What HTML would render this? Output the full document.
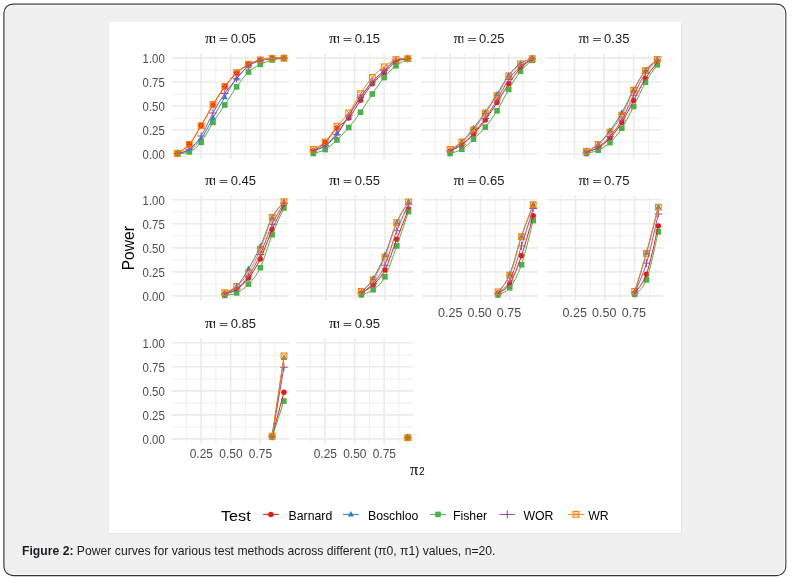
<!DOCTYPE html>
<html><head><meta charset="utf-8"><title>Figure 2</title>
<style>
html,body{margin:0;padding:0;background:#fff;}
body{width:795px;height:578px;position:relative;overflow:hidden;font-family:"Liberation Sans",Arial,sans-serif;}

.plot{position:absolute;left:109px;top:22px;width:572px;height:511px;background:#fff;box-shadow:1px 1px 0 #e7e7e7,-1px 0 0 #eaeaea;}
svg{position:absolute;left:0;top:0;}
.ax{fill:#4D4D4D;font-family:"Liberation Sans",Arial,sans-serif;}
.st{fill:#1A1A1A;font-family:"Liberation Sans",Arial,sans-serif;}
.pi{font-family:"Liberation Serif","DejaVu Serif",serif;fill:#1A1A1A;stroke:#1A1A1A;stroke-width:0.8px;}
.eq{font-family:"Liberation Sans",Arial,sans-serif;fill:#1A1A1A;stroke:#1A1A1A;stroke-width:1.8px;}
.sub{fill:#1A1A1A;font-family:"NanumGothic","Liberation Sans",sans-serif;font-weight:bold;}
.ti{fill:#000;font-family:"Liberation Sans",Arial,sans-serif;}
.ti2{fill:#000;}
.pi2{font-family:"Liberation Serif","DejaVu Serif",serif;fill:#000;}
.sub2{font-family:"Liberation Sans",Arial,sans-serif;fill:#000;}
.lt{fill:#000;font-family:"Liberation Sans",Arial,sans-serif;}
.lg{fill:#000;font-family:"Liberation Sans",Arial,sans-serif;}
.cap{position:absolute;left:22px;top:543px;font-size:12.2px;line-height:16px;color:#1c1c24;white-space:nowrap;font-family:"Liberation Sans",Arial,sans-serif;}
.cap b{font-weight:bold;}
</style></head>
<body>
<svg class="fr" width="795" height="578" viewBox="0 0 795 578">
<rect x="3.9" y="4.1" width="781.9" height="571.5" rx="9" ry="9" fill="#f0f0f0" stroke="#2e2e2e" stroke-width="1.1"/>
<path d="M13.5 5.25H776.2A8.4 8.4 0 0 1 784.65 13.6V566.2A8.4 8.4 0 0 1 776.2 574.55H13.5" fill="none" stroke="#ffffff" stroke-opacity="0.75" stroke-width="1"/>
</svg>
<div class="plot"></div>
<svg width="795" height="578" viewBox="0 0 795 578">
<g><path d="M172 141.97H289.1" stroke="#EBEBEB" stroke-width="0.8"/><path d="M186.35 53.79V158.74" stroke="#EBEBEB" stroke-width="0.8"/><path d="M172 118.01H289.1" stroke="#EBEBEB" stroke-width="0.8"/><path d="M215.92 53.79V158.74" stroke="#EBEBEB" stroke-width="0.8"/><path d="M172 94.04H289.1" stroke="#EBEBEB" stroke-width="0.8"/><path d="M245.5 53.79V158.74" stroke="#EBEBEB" stroke-width="0.8"/><path d="M172 70.08H289.1" stroke="#EBEBEB" stroke-width="0.8"/><path d="M275.07 53.79V158.74" stroke="#EBEBEB" stroke-width="0.8"/><path d="M172 153.95H289.1" stroke="#EBEBEB" stroke-width="1.6"/><path d="M172 129.99H289.1" stroke="#EBEBEB" stroke-width="1.6"/><path d="M172 106.02H289.1" stroke="#EBEBEB" stroke-width="1.6"/><path d="M172 82.06H289.1" stroke="#EBEBEB" stroke-width="1.6"/><path d="M172 58.1H289.1" stroke="#EBEBEB" stroke-width="1.6"/><path d="M201.13 53.79V158.74" stroke="#EBEBEB" stroke-width="1.6"/><path d="M230.71 53.79V158.74" stroke="#EBEBEB" stroke-width="1.6"/><path d="M260.28 53.79V158.74" stroke="#EBEBEB" stroke-width="1.6"/></g>
<circle cx="177.47" cy="153.47" r="2.75" fill="#E41A1C"/><circle cx="189.31" cy="144.36" r="2.75" fill="#E41A1C"/><circle cx="201.13" cy="125.58" r="2.75" fill="#E41A1C"/><circle cx="212.97" cy="105.07" r="2.75" fill="#E41A1C"/><circle cx="224.8" cy="86.85" r="2.75" fill="#E41A1C"/><circle cx="236.62" cy="73.05" r="2.75" fill="#E41A1C"/><circle cx="248.45" cy="64.62" r="2.75" fill="#E41A1C"/><circle cx="260.28" cy="60.02" r="2.75" fill="#E41A1C"/><circle cx="272.12" cy="58.39" r="2.75" fill="#E41A1C"/><circle cx="283.94" cy="58.1" r="2.75" fill="#E41A1C"/>
<path d="M177.47 150.07L180.53 155.67L174.42 155.67Z" fill="#377EB8"/><path d="M189.31 146.72L192.36 152.32L186.25 152.32Z" fill="#377EB8"/><path d="M201.13 135.31L204.19 140.91L198.08 140.91Z" fill="#377EB8"/><path d="M212.97 114.7L216.02 120.3L209.91 120.3Z" fill="#377EB8"/><path d="M224.8 93.71L227.85 99.31L221.75 99.31Z" fill="#377EB8"/><path d="M236.62 74.83L239.68 80.43L233.57 80.43Z" fill="#377EB8"/><path d="M248.45 62.56L251.5 68.16L245.4 68.16Z" fill="#377EB8"/><path d="M260.28 57.1L263.33 62.7L257.23 62.7Z" fill="#377EB8"/><path d="M272.12 55.18L275.17 60.78L269.06 60.78Z" fill="#377EB8"/><path d="M283.94 54.7L287 60.3L280.89 60.3Z" fill="#377EB8"/>
<rect x="174.67" y="150.96" width="5.6" height="5.6" fill="#4DAF4A"/><rect x="186.5" y="149.14" width="5.6" height="5.6" fill="#4DAF4A"/><rect x="198.33" y="139.55" width="5.6" height="5.6" fill="#4DAF4A"/><rect x="210.16" y="119.62" width="5.6" height="5.6" fill="#4DAF4A"/><rect x="222" y="102.17" width="5.6" height="5.6" fill="#4DAF4A"/><rect x="233.82" y="84.05" width="5.6" height="5.6" fill="#4DAF4A"/><rect x="245.65" y="69.29" width="5.6" height="5.6" fill="#4DAF4A"/><rect x="257.48" y="61.63" width="5.6" height="5.6" fill="#4DAF4A"/><rect x="269.31" y="57.22" width="5.6" height="5.6" fill="#4DAF4A"/><rect x="281.14" y="55.49" width="5.6" height="5.6" fill="#4DAF4A"/>
<path d="M173.57 153.47H181.38M177.47 149.57V157.37" stroke="#984EA3" stroke-width="1.05" fill="none"/><path d="M185.41 149.16H193.21M189.31 145.26V153.06" stroke="#984EA3" stroke-width="1.05" fill="none"/><path d="M197.23 136.03H205.03M201.13 132.13V139.93" stroke="#984EA3" stroke-width="1.05" fill="none"/><path d="M209.06 113.02H216.87M212.97 109.12V116.92" stroke="#984EA3" stroke-width="1.05" fill="none"/><path d="M220.9 93.37H228.7M224.8 89.47V97.27" stroke="#984EA3" stroke-width="1.05" fill="none"/><path d="M232.72 78.71H240.53M236.62 74.81V82.61" stroke="#984EA3" stroke-width="1.05" fill="none"/><path d="M244.55 65.96H252.35M248.45 62.06V69.86" stroke="#984EA3" stroke-width="1.05" fill="none"/><path d="M256.38 60.4H264.18M260.28 56.5V64.3" stroke="#984EA3" stroke-width="1.05" fill="none"/><path d="M268.22 58.58H276.01M272.12 54.68V62.48" stroke="#984EA3" stroke-width="1.05" fill="none"/><path d="M280.05 58.1H287.84M283.94 54.2V62" stroke="#984EA3" stroke-width="1.05" fill="none"/>
<path d="M174.62 150.62h5.7v5.7h-5.7Z" stroke="#FF7F00" stroke-width="1.05" fill="none"/><path d="M174.62 150.62L180.32 156.32M180.32 150.62L174.62 156.32" stroke="#FF7F00" stroke-width="0.85" fill="none"/><path d="M186.46 141.51h5.7v5.7h-5.7Z" stroke="#FF7F00" stroke-width="1.05" fill="none"/><path d="M186.46 141.51L192.16 147.21M192.16 141.51L186.46 147.21" stroke="#FF7F00" stroke-width="0.85" fill="none"/><path d="M198.28 122.73h5.7v5.7h-5.7Z" stroke="#FF7F00" stroke-width="1.05" fill="none"/><path d="M198.28 122.73L203.98 128.43M203.98 122.73L198.28 128.43" stroke="#FF7F00" stroke-width="0.85" fill="none"/><path d="M210.12 101.64h5.7v5.7h-5.7Z" stroke="#FF7F00" stroke-width="1.05" fill="none"/><path d="M210.12 101.64L215.81 107.34M215.81 101.64L210.12 107.34" stroke="#FF7F00" stroke-width="0.85" fill="none"/><path d="M221.95 83.43h5.7v5.7h-5.7Z" stroke="#FF7F00" stroke-width="1.05" fill="none"/><path d="M221.95 83.43L227.65 89.13M227.65 83.43L221.95 89.13" stroke="#FF7F00" stroke-width="0.85" fill="none"/><path d="M233.78 69.82h5.7v5.7h-5.7Z" stroke="#FF7F00" stroke-width="1.05" fill="none"/><path d="M233.78 69.82L239.47 75.52M239.47 69.82L233.78 75.52" stroke="#FF7F00" stroke-width="0.85" fill="none"/><path d="M245.6 61.38h5.7v5.7h-5.7Z" stroke="#FF7F00" stroke-width="1.05" fill="none"/><path d="M245.6 61.38L251.3 67.08M251.3 61.38L245.6 67.08" stroke="#FF7F00" stroke-width="0.85" fill="none"/><path d="M257.43 56.98h5.7v5.7h-5.7Z" stroke="#FF7F00" stroke-width="1.05" fill="none"/><path d="M257.43 56.98L263.13 62.68M263.13 56.98L257.43 62.68" stroke="#FF7F00" stroke-width="0.85" fill="none"/><path d="M269.26 55.44h5.7v5.7h-5.7Z" stroke="#FF7F00" stroke-width="1.05" fill="none"/><path d="M269.26 55.44L274.97 61.14M274.97 55.44L269.26 61.14" stroke="#FF7F00" stroke-width="0.85" fill="none"/><path d="M281.09 55.25h5.7v5.7h-5.7Z" stroke="#FF7F00" stroke-width="1.05" fill="none"/><path d="M281.09 55.25L286.8 60.95M286.8 55.25L281.09 60.95" stroke="#FF7F00" stroke-width="0.85" fill="none"/>
<path d="M177.47 153.47C179.45 151.95 185.36 149.01 189.31 144.36C193.25 139.72 197.19 132.13 201.13 125.58C205.08 119.03 209.02 111.52 212.97 105.07C216.91 98.61 220.85 92.19 224.8 86.85C228.74 81.52 232.68 76.76 236.62 73.05C240.57 69.35 244.51 66.79 248.45 64.62C252.4 62.45 256.34 61.06 260.28 60.02C264.23 58.98 268.17 58.71 272.12 58.39C276.06 58.07 281.97 58.15 283.94 58.1" fill="none" stroke="#E41A1C" stroke-width="1.0" stroke-linejoin="round"/>
<path d="M177.47 153.47C179.45 152.91 185.36 152.58 189.31 150.12C193.25 147.66 197.19 144.05 201.13 138.71C205.08 133.37 209.02 125.04 212.97 118.1C216.91 111.17 220.85 103.76 224.8 97.11C228.74 90.47 232.68 83.42 236.62 78.23C240.57 73.04 244.51 68.92 248.45 65.96C252.4 63 256.34 61.73 260.28 60.5C264.23 59.27 268.17 58.98 272.12 58.58C276.06 58.18 281.97 58.18 283.94 58.1" fill="none" stroke="#377EB8" stroke-width="1.0" stroke-linejoin="round"/>
<path d="M177.47 153.76C179.45 153.45 185.36 153.84 189.31 151.94C193.25 150.04 197.19 147.27 201.13 142.35C205.08 137.43 209.02 128.65 212.97 122.42C216.91 116.19 220.85 110.9 224.8 104.97C228.74 99.04 232.68 92.33 236.62 86.85C240.57 81.38 244.51 75.83 248.45 72.09C252.4 68.36 256.34 66.44 260.28 64.43C264.23 62.41 268.17 61.04 272.12 60.02C276.06 58.99 281.97 58.58 283.94 58.29" fill="none" stroke="#4DAF4A" stroke-width="1.0" stroke-linejoin="round"/>
<path d="M177.47 153.47C179.45 152.75 185.36 152.06 189.31 149.16C193.25 146.25 197.19 142.05 201.13 136.03C205.08 130 209.02 120.13 212.97 113.02C216.91 105.91 220.85 99.09 224.8 93.37C228.74 87.65 232.68 83.28 236.62 78.71C240.57 74.14 244.51 69.01 248.45 65.96C252.4 62.91 256.34 61.63 260.28 60.4C264.23 59.17 268.17 58.96 272.12 58.58C276.06 58.2 281.97 58.18 283.94 58.1" fill="none" stroke="#984EA3" stroke-width="1.0" stroke-linejoin="round"/>
<path d="M177.47 153.47C179.45 151.95 185.36 149.01 189.31 144.36C193.25 139.72 197.19 132.22 201.13 125.58C205.08 118.93 209.02 111.04 212.97 104.49C216.91 97.94 220.85 91.58 224.8 86.28C228.74 80.98 232.68 76.34 236.62 72.67C240.57 68.99 244.51 66.38 248.45 64.23C252.4 62.09 256.34 60.82 260.28 59.83C264.23 58.83 268.17 58.58 272.12 58.29C276.06 58 281.97 58.13 283.94 58.1" fill="none" stroke="#FF7F00" stroke-width="1.0" stroke-linejoin="round"/>
<text transform="translate(205.25 42.9) scale(0.25000 0.25000)" class="pi" font-size="58.40">π</text>
<text transform="translate(211.65 42.9) scale(0.25000 0.25000)" class="sub" font-size="34.40">1</text>
<text transform="translate(219.25 41.9) scale(0.25000 0.13750)" class="eq" font-size="58.00">=</text>
<text transform="translate(230.65 42.6) scale(0.25000 0.25000)" class="st" font-size="52.00">0.05</text>
<g><path d="M296.1 141.97H413" stroke="#EBEBEB" stroke-width="0.8"/><path d="M310.38 53.79V158.74" stroke="#EBEBEB" stroke-width="0.8"/><path d="M296.1 118.01H413" stroke="#EBEBEB" stroke-width="0.8"/><path d="M339.88 53.79V158.74" stroke="#EBEBEB" stroke-width="0.8"/><path d="M296.1 94.04H413" stroke="#EBEBEB" stroke-width="0.8"/><path d="M369.38 53.79V158.74" stroke="#EBEBEB" stroke-width="0.8"/><path d="M296.1 70.08H413" stroke="#EBEBEB" stroke-width="0.8"/><path d="M398.88 53.79V158.74" stroke="#EBEBEB" stroke-width="0.8"/><path d="M296.1 153.95H413" stroke="#EBEBEB" stroke-width="1.6"/><path d="M296.1 129.99H413" stroke="#EBEBEB" stroke-width="1.6"/><path d="M296.1 106.02H413" stroke="#EBEBEB" stroke-width="1.6"/><path d="M296.1 82.06H413" stroke="#EBEBEB" stroke-width="1.6"/><path d="M296.1 58.1H413" stroke="#EBEBEB" stroke-width="1.6"/><path d="M325.13 53.79V158.74" stroke="#EBEBEB" stroke-width="1.6"/><path d="M354.63 53.79V158.74" stroke="#EBEBEB" stroke-width="1.6"/><path d="M384.13 53.79V158.74" stroke="#EBEBEB" stroke-width="1.6"/></g>
<circle cx="313.33" cy="151.07" r="2.75" fill="#E41A1C"/><circle cx="325.13" cy="142.45" r="2.75" fill="#E41A1C"/><circle cx="336.93" cy="128.07" r="2.75" fill="#E41A1C"/><circle cx="348.73" cy="118.01" r="2.75" fill="#E41A1C"/><circle cx="360.53" cy="100.27" r="2.75" fill="#E41A1C"/><circle cx="372.33" cy="83.69" r="2.75" fill="#E41A1C"/><circle cx="384.13" cy="72.67" r="2.75" fill="#E41A1C"/><circle cx="395.93" cy="61.65" r="2.75" fill="#E41A1C"/><circle cx="407.73" cy="58.77" r="2.75" fill="#E41A1C"/>
<path d="M313.33 147.67L316.38 153.27L310.28 153.27Z" fill="#377EB8"/><path d="M325.13 142.21L328.18 147.81L322.08 147.81Z" fill="#377EB8"/><path d="M336.93 129.94L339.98 135.54L333.88 135.54Z" fill="#377EB8"/><path d="M348.73 112.21L351.78 117.81L345.68 117.81Z" fill="#377EB8"/><path d="M360.53 93.42L363.58 99.02L357.48 99.02Z" fill="#377EB8"/><path d="M372.33 78.28L375.38 83.88L369.28 83.88Z" fill="#377EB8"/><path d="M384.13 67.16L387.18 72.76L381.08 72.76Z" fill="#377EB8"/><path d="M395.93 57.1L398.98 62.7L392.88 62.7Z" fill="#377EB8"/><path d="M407.73 55.18L410.78 60.78L404.68 60.78Z" fill="#377EB8"/>
<rect x="310.53" y="150.67" width="5.6" height="5.6" fill="#4DAF4A"/><rect x="322.33" y="146.74" width="5.6" height="5.6" fill="#4DAF4A"/><rect x="334.13" y="137.16" width="5.6" height="5.6" fill="#4DAF4A"/><rect x="345.93" y="124.7" width="5.6" height="5.6" fill="#4DAF4A"/><rect x="357.73" y="109.46" width="5.6" height="5.6" fill="#4DAF4A"/><rect x="369.53" y="91.24" width="5.6" height="5.6" fill="#4DAF4A"/><rect x="381.33" y="74.76" width="5.6" height="5.6" fill="#4DAF4A"/><rect x="393.13" y="62.97" width="5.6" height="5.6" fill="#4DAF4A"/><rect x="404.93" y="56.26" width="5.6" height="5.6" fill="#4DAF4A"/>
<path d="M309.43 151.07H317.23M313.33 147.17V154.97" stroke="#984EA3" stroke-width="1.05" fill="none"/><path d="M321.23 145.61H329.03M325.13 141.71V149.51" stroke="#984EA3" stroke-width="1.05" fill="none"/><path d="M333.03 134.78H340.83M336.93 130.88V138.68" stroke="#984EA3" stroke-width="1.05" fill="none"/><path d="M344.83 115.61H352.63M348.73 111.71V119.51" stroke="#984EA3" stroke-width="1.05" fill="none"/><path d="M356.63 97.4H364.43M360.53 93.5V101.3" stroke="#984EA3" stroke-width="1.05" fill="none"/><path d="M368.43 82.06H376.23M372.33 78.16V85.96" stroke="#984EA3" stroke-width="1.05" fill="none"/><path d="M380.23 70.56H388.03M384.13 66.66V74.46" stroke="#984EA3" stroke-width="1.05" fill="none"/><path d="M392.03 60.02H399.83M395.93 56.12V63.92" stroke="#984EA3" stroke-width="1.05" fill="none"/><path d="M403.83 58.58H411.63M407.73 54.68V62.48" stroke="#984EA3" stroke-width="1.05" fill="none"/>
<path d="M310.48 146.4h5.7v5.7h-5.7Z" stroke="#FF7F00" stroke-width="1.05" fill="none"/><path d="M310.48 146.4L316.18 152.1M316.18 146.4L310.48 152.1" stroke="#FF7F00" stroke-width="0.85" fill="none"/><path d="M322.28 139.12h5.7v5.7h-5.7Z" stroke="#FF7F00" stroke-width="1.05" fill="none"/><path d="M322.28 139.12L327.98 144.82M327.98 139.12L322.28 144.82" stroke="#FF7F00" stroke-width="0.85" fill="none"/><path d="M334.08 123.3h5.7v5.7h-5.7Z" stroke="#FF7F00" stroke-width="1.05" fill="none"/><path d="M334.08 123.3L339.78 129M339.78 123.3L334.08 129" stroke="#FF7F00" stroke-width="0.85" fill="none"/><path d="M345.88 109.98h5.7v5.7h-5.7Z" stroke="#FF7F00" stroke-width="1.05" fill="none"/><path d="M345.88 109.98L351.58 115.68M351.58 109.98L345.88 115.68" stroke="#FF7F00" stroke-width="0.85" fill="none"/><path d="M357.68 90.71h5.7v5.7h-5.7Z" stroke="#FF7F00" stroke-width="1.05" fill="none"/><path d="M357.68 90.71L363.38 96.41M363.38 90.71L357.68 96.41" stroke="#FF7F00" stroke-width="0.85" fill="none"/><path d="M369.48 74.42h5.7v5.7h-5.7Z" stroke="#FF7F00" stroke-width="1.05" fill="none"/><path d="M369.48 74.42L375.18 80.12M375.18 74.42L369.48 80.12" stroke="#FF7F00" stroke-width="0.85" fill="none"/><path d="M381.28 63.97h5.7v5.7h-5.7Z" stroke="#FF7F00" stroke-width="1.05" fill="none"/><path d="M381.28 63.97L386.98 69.67M386.98 63.97L381.28 69.67" stroke="#FF7F00" stroke-width="0.85" fill="none"/><path d="M393.08 56.69h5.7v5.7h-5.7Z" stroke="#FF7F00" stroke-width="1.05" fill="none"/><path d="M393.08 56.69L398.78 62.39M398.78 56.69L393.08 62.39" stroke="#FF7F00" stroke-width="0.85" fill="none"/><path d="M404.88 55.73h5.7v5.7h-5.7Z" stroke="#FF7F00" stroke-width="1.05" fill="none"/><path d="M404.88 55.73L410.58 61.43M410.58 55.73L404.88 61.43" stroke="#FF7F00" stroke-width="0.85" fill="none"/>
<path d="M313.33 151.07C315.3 149.64 321.2 146.28 325.13 142.45C329.06 138.61 333 132.14 336.93 128.07C340.86 124 344.8 122.64 348.73 118.01C352.66 113.37 356.6 105.99 360.53 100.27C364.46 94.55 368.4 88.29 372.33 83.69C376.26 79.09 380.2 76.34 384.13 72.67C388.06 68.99 392 63.96 395.93 61.65C399.86 59.33 405.76 59.25 407.73 58.77" fill="none" stroke="#E41A1C" stroke-width="1.0" stroke-linejoin="round"/>
<path d="M313.33 151.07C315.3 150.16 321.2 148.57 325.13 145.61C329.06 142.66 333 138.34 336.93 133.34C340.86 128.34 344.8 121.7 348.73 115.61C352.66 109.52 356.6 102.48 360.53 96.82C364.46 91.17 368.4 86.06 372.33 81.68C376.26 77.3 380.2 74.09 384.13 70.56C388.06 67.03 392 62.49 395.93 60.5C399.86 58.5 405.76 58.9 407.73 58.58" fill="none" stroke="#377EB8" stroke-width="1.0" stroke-linejoin="round"/>
<path d="M313.33 153.47C315.3 152.82 321.2 151.79 325.13 149.54C329.06 147.29 333 143.63 336.93 139.96C340.86 136.28 344.8 132.11 348.73 127.5C352.66 122.88 356.6 117.83 360.53 112.26C364.46 106.68 368.4 99.83 372.33 94.04C376.26 88.26 380.2 82.27 384.13 77.56C388.06 72.84 392 68.85 395.93 65.77C399.86 62.68 405.76 60.18 407.73 59.06" fill="none" stroke="#4DAF4A" stroke-width="1.0" stroke-linejoin="round"/>
<path d="M313.33 151.07C315.3 150.16 321.2 148.33 325.13 145.61C329.06 142.9 333 139.78 336.93 134.78C340.86 129.78 344.8 121.84 348.73 115.61C352.66 109.38 356.6 102.99 360.53 97.4C364.46 91.81 368.4 86.54 372.33 82.06C376.26 77.59 380.2 74.23 384.13 70.56C388.06 66.89 392 62.01 395.93 60.02C399.86 58.02 405.76 58.82 407.73 58.58" fill="none" stroke="#984EA3" stroke-width="1.0" stroke-linejoin="round"/>
<path d="M313.33 149.25C315.3 148.04 321.2 145.82 325.13 141.97C329.06 138.12 333 131.01 336.93 126.15C340.86 121.3 344.8 118.26 348.73 112.83C352.66 107.4 356.6 99.49 360.53 93.56C364.46 87.64 368.4 81.73 372.33 77.27C376.26 72.81 380.2 69.78 384.13 66.82C388.06 63.87 392 60.91 395.93 59.54C399.86 58.16 405.76 58.74 407.73 58.58" fill="none" stroke="#FF7F00" stroke-width="1.0" stroke-linejoin="round"/>
<text transform="translate(329.25 42.9) scale(0.25000 0.25000)" class="pi" font-size="58.40">π</text>
<text transform="translate(335.65 42.9) scale(0.25000 0.25000)" class="sub" font-size="34.40">1</text>
<text transform="translate(343.25 41.9) scale(0.25000 0.13750)" class="eq" font-size="58.00">=</text>
<text transform="translate(354.65 42.6) scale(0.25000 0.25000)" class="st" font-size="52.00">0.15</text>
<g><path d="M421.1 141.97H536.9" stroke="#EBEBEB" stroke-width="0.8"/><path d="M435.43 53.79V158.74" stroke="#EBEBEB" stroke-width="0.8"/><path d="M421.1 118.01H536.9" stroke="#EBEBEB" stroke-width="0.8"/><path d="M464.76 53.79V158.74" stroke="#EBEBEB" stroke-width="0.8"/><path d="M421.1 94.04H536.9" stroke="#EBEBEB" stroke-width="0.8"/><path d="M494.08 53.79V158.74" stroke="#EBEBEB" stroke-width="0.8"/><path d="M421.1 70.08H536.9" stroke="#EBEBEB" stroke-width="0.8"/><path d="M523.41 53.79V158.74" stroke="#EBEBEB" stroke-width="0.8"/><path d="M421.1 153.95H536.9" stroke="#EBEBEB" stroke-width="1.6"/><path d="M421.1 129.99H536.9" stroke="#EBEBEB" stroke-width="1.6"/><path d="M421.1 106.02H536.9" stroke="#EBEBEB" stroke-width="1.6"/><path d="M421.1 82.06H536.9" stroke="#EBEBEB" stroke-width="1.6"/><path d="M421.1 58.1H536.9" stroke="#EBEBEB" stroke-width="1.6"/><path d="M450.09 53.79V158.74" stroke="#EBEBEB" stroke-width="1.6"/><path d="M479.42 53.79V158.74" stroke="#EBEBEB" stroke-width="1.6"/><path d="M508.75 53.79V158.74" stroke="#EBEBEB" stroke-width="1.6"/></g>
<circle cx="450.09" cy="151.07" r="2.75" fill="#E41A1C"/><circle cx="461.82" cy="144.56" r="2.75" fill="#E41A1C"/><circle cx="473.55" cy="134.2" r="2.75" fill="#E41A1C"/><circle cx="485.28" cy="119.92" r="2.75" fill="#E41A1C"/><circle cx="497.01" cy="102.57" r="2.75" fill="#E41A1C"/><circle cx="508.75" cy="83.79" r="2.75" fill="#E41A1C"/><circle cx="520.48" cy="67.97" r="2.75" fill="#E41A1C"/><circle cx="532.2" cy="59.06" r="2.75" fill="#E41A1C"/>
<path d="M450.09 147.67L453.14 153.27L447.04 153.27Z" fill="#377EB8"/><path d="M461.82 138.57L464.88 144.17L458.77 144.17Z" fill="#377EB8"/><path d="M473.55 124.67L476.6 130.27L470.5 130.27Z" fill="#377EB8"/><path d="M485.28 108.86L488.33 114.46L482.23 114.46Z" fill="#377EB8"/><path d="M497.01 90.64L500.06 96.24L493.96 96.24Z" fill="#377EB8"/><path d="M508.75 71.95L511.8 77.55L505.69 77.55Z" fill="#377EB8"/><path d="M520.48 59.97L523.52 65.57L517.43 65.57Z" fill="#377EB8"/><path d="M532.2 55.18L535.25 60.78L529.15 60.78Z" fill="#377EB8"/>
<rect x="447.29" y="150.67" width="5.6" height="5.6" fill="#4DAF4A"/><rect x="459.02" y="146.45" width="5.6" height="5.6" fill="#4DAF4A"/><rect x="470.75" y="136.39" width="5.6" height="5.6" fill="#4DAF4A"/><rect x="482.48" y="124.31" width="5.6" height="5.6" fill="#4DAF4A"/><rect x="494.21" y="108.02" width="5.6" height="5.6" fill="#4DAF4A"/><rect x="505.94" y="86.64" width="5.6" height="5.6" fill="#4DAF4A"/><rect x="517.68" y="68.53" width="5.6" height="5.6" fill="#4DAF4A"/><rect x="529.4" y="57.41" width="5.6" height="5.6" fill="#4DAF4A"/>
<path d="M446.19 151.07H453.99M450.09 147.17V154.97" stroke="#984EA3" stroke-width="1.05" fill="none"/><path d="M457.93 144.56H465.72M461.82 140.66V148.46" stroke="#984EA3" stroke-width="1.05" fill="none"/><path d="M469.65 133.15H477.45M473.55 129.25V137.05" stroke="#984EA3" stroke-width="1.05" fill="none"/><path d="M481.38 118.49H489.18M485.28 114.59V122.39" stroke="#984EA3" stroke-width="1.05" fill="none"/><path d="M493.12 99.99H500.91M497.01 96.09V103.89" stroke="#984EA3" stroke-width="1.05" fill="none"/><path d="M504.85 79.47H512.64M508.75 75.57V83.37" stroke="#984EA3" stroke-width="1.05" fill="none"/><path d="M516.58 66.44H524.38M520.48 62.54V70.34" stroke="#984EA3" stroke-width="1.05" fill="none"/><path d="M528.3 58.77H536.1M532.2 54.87V62.67" stroke="#984EA3" stroke-width="1.05" fill="none"/>
<path d="M447.24 146.4h5.7v5.7h-5.7Z" stroke="#FF7F00" stroke-width="1.05" fill="none"/><path d="M447.24 146.4L452.94 152.1M452.94 146.4L447.24 152.1" stroke="#FF7F00" stroke-width="0.85" fill="none"/><path d="M458.97 139.12h5.7v5.7h-5.7Z" stroke="#FF7F00" stroke-width="1.05" fill="none"/><path d="M458.97 139.12L464.68 144.82M464.68 139.12L458.97 144.82" stroke="#FF7F00" stroke-width="0.85" fill="none"/><path d="M470.7 127.14h5.7v5.7h-5.7Z" stroke="#FF7F00" stroke-width="1.05" fill="none"/><path d="M470.7 127.14L476.4 132.84M476.4 127.14L470.7 132.84" stroke="#FF7F00" stroke-width="0.85" fill="none"/><path d="M482.43 110.17h5.7v5.7h-5.7Z" stroke="#FF7F00" stroke-width="1.05" fill="none"/><path d="M482.43 110.17L488.13 115.87M488.13 110.17L482.43 115.87" stroke="#FF7F00" stroke-width="0.85" fill="none"/><path d="M494.16 92.82h5.7v5.7h-5.7Z" stroke="#FF7F00" stroke-width="1.05" fill="none"/><path d="M494.16 92.82L499.87 98.52M499.87 92.82L494.16 98.52" stroke="#FF7F00" stroke-width="0.85" fill="none"/><path d="M505.89 72.98h5.7v5.7h-5.7Z" stroke="#FF7F00" stroke-width="1.05" fill="none"/><path d="M505.89 72.98L511.6 78.68M511.6 72.98L505.89 78.68" stroke="#FF7F00" stroke-width="0.85" fill="none"/><path d="M517.62 61h5.7v5.7h-5.7Z" stroke="#FF7F00" stroke-width="1.05" fill="none"/><path d="M517.62 61L523.33 66.7M523.33 61L517.62 66.7" stroke="#FF7F00" stroke-width="0.85" fill="none"/><path d="M529.35 55.73h5.7v5.7h-5.7Z" stroke="#FF7F00" stroke-width="1.05" fill="none"/><path d="M529.35 55.73L535.05 61.43M535.05 55.73L529.35 61.43" stroke="#FF7F00" stroke-width="0.85" fill="none"/>
<path d="M450.09 151.07C452.05 149.99 457.91 147.37 461.82 144.56C465.74 141.75 469.64 138.31 473.55 134.2C477.46 130.1 481.37 125.19 485.28 119.92C489.19 114.65 493.1 108.6 497.01 102.57C500.93 96.55 504.83 89.55 508.75 83.79C512.65 78.02 516.57 72.09 520.48 67.97C524.38 63.85 530.25 60.54 532.2 59.06" fill="none" stroke="#E41A1C" stroke-width="1.0" stroke-linejoin="round"/>
<path d="M450.09 151.07C452.05 149.56 457.91 145.8 461.82 141.97C465.74 138.13 469.64 133.02 473.55 128.07C477.46 123.12 481.37 117.93 485.28 112.26C489.19 106.58 493.1 100.19 497.01 94.04C500.93 87.89 504.83 80.46 508.75 75.35C512.65 70.24 516.57 66.17 520.48 63.37C524.38 60.58 530.25 59.38 532.2 58.58" fill="none" stroke="#377EB8" stroke-width="1.0" stroke-linejoin="round"/>
<path d="M450.09 153.47C452.05 152.77 457.91 151.63 461.82 149.25C465.74 146.87 469.64 142.88 473.55 139.19C477.46 135.5 481.37 131.84 485.28 127.11C489.19 122.38 493.1 117.1 497.01 110.82C500.93 104.54 504.83 96.02 508.75 89.44C512.65 82.86 516.57 76.2 520.48 71.33C524.38 66.45 530.25 62.06 532.2 60.21" fill="none" stroke="#4DAF4A" stroke-width="1.0" stroke-linejoin="round"/>
<path d="M450.09 151.07C452.05 149.99 457.91 147.54 461.82 144.56C465.74 141.57 469.64 137.5 473.55 133.15C477.46 128.81 481.37 124.01 485.28 118.49C489.19 112.96 493.1 106.49 497.01 99.99C500.93 93.48 504.83 85.07 508.75 79.47C512.65 73.88 516.57 69.89 520.48 66.44C524.38 62.99 530.25 60.05 532.2 58.77" fill="none" stroke="#984EA3" stroke-width="1.0" stroke-linejoin="round"/>
<path d="M450.09 149.25C452.05 148.04 457.91 145.18 461.82 141.97C465.74 138.76 469.64 134.81 473.55 129.99C477.46 125.16 481.37 118.74 485.28 113.02C489.19 107.3 493.1 101.87 497.01 95.67C500.93 89.47 504.83 81.14 508.75 75.83C512.65 70.53 516.57 66.73 520.48 63.85C524.38 60.98 530.25 59.46 532.2 58.58" fill="none" stroke="#FF7F00" stroke-width="1.0" stroke-linejoin="round"/>
<text transform="translate(453.7 42.9) scale(0.25000 0.25000)" class="pi" font-size="58.40">π</text>
<text transform="translate(460.1 42.9) scale(0.25000 0.25000)" class="sub" font-size="34.40">1</text>
<text transform="translate(467.7 41.9) scale(0.25000 0.13750)" class="eq" font-size="58.00">=</text>
<text transform="translate(479.1 42.6) scale(0.25000 0.25000)" class="st" font-size="52.00">0.25</text>
<g><path d="M546 141.97H662" stroke="#EBEBEB" stroke-width="0.8"/><path d="M559.71 53.79V158.74" stroke="#EBEBEB" stroke-width="0.8"/><path d="M546 118.01H662" stroke="#EBEBEB" stroke-width="0.8"/><path d="M589.28 53.79V158.74" stroke="#EBEBEB" stroke-width="0.8"/><path d="M546 94.04H662" stroke="#EBEBEB" stroke-width="0.8"/><path d="M618.86 53.79V158.74" stroke="#EBEBEB" stroke-width="0.8"/><path d="M546 70.08H662" stroke="#EBEBEB" stroke-width="0.8"/><path d="M648.43 53.79V158.74" stroke="#EBEBEB" stroke-width="0.8"/><path d="M546 153.95H662" stroke="#EBEBEB" stroke-width="1.6"/><path d="M546 129.99H662" stroke="#EBEBEB" stroke-width="1.6"/><path d="M546 106.02H662" stroke="#EBEBEB" stroke-width="1.6"/><path d="M546 82.06H662" stroke="#EBEBEB" stroke-width="1.6"/><path d="M546 58.1H662" stroke="#EBEBEB" stroke-width="1.6"/><path d="M574.5 53.79V158.74" stroke="#EBEBEB" stroke-width="1.6"/><path d="M604.07 53.79V158.74" stroke="#EBEBEB" stroke-width="1.6"/><path d="M633.64 53.79V158.74" stroke="#EBEBEB" stroke-width="1.6"/></g>
<circle cx="586.32" cy="152.32" r="2.75" fill="#E41A1C"/><circle cx="598.15" cy="147.72" r="2.75" fill="#E41A1C"/><circle cx="609.98" cy="138.13" r="2.75" fill="#E41A1C"/><circle cx="621.81" cy="122.51" r="2.75" fill="#E41A1C"/><circle cx="633.64" cy="100.47" r="2.75" fill="#E41A1C"/><circle cx="645.47" cy="78.42" r="2.75" fill="#E41A1C"/><circle cx="657.3" cy="62.32" r="2.75" fill="#E41A1C"/>
<path d="M586.32 148.92L589.37 154.52L583.27 154.52Z" fill="#377EB8"/><path d="M598.15 140.96L601.2 146.56L595.11 146.56Z" fill="#377EB8"/><path d="M609.98 127.26L613.03 132.86L606.93 132.86Z" fill="#377EB8"/><path d="M621.81 109.33L624.86 114.93L618.76 114.93Z" fill="#377EB8"/><path d="M633.64 86.33L636.69 91.93L630.6 91.93Z" fill="#377EB8"/><path d="M645.47 66.68L648.52 72.28L642.42 72.28Z" fill="#377EB8"/><path d="M657.3 56.23L660.35 61.83L654.25 61.83Z" fill="#377EB8"/>
<rect x="583.52" y="150.67" width="5.6" height="5.6" fill="#4DAF4A"/><rect x="595.36" y="147.41" width="5.6" height="5.6" fill="#4DAF4A"/><rect x="607.18" y="139.84" width="5.6" height="5.6" fill="#4DAF4A"/><rect x="619.01" y="125.46" width="5.6" height="5.6" fill="#4DAF4A"/><rect x="630.85" y="103.7" width="5.6" height="5.6" fill="#4DAF4A"/><rect x="642.67" y="79.45" width="5.6" height="5.6" fill="#4DAF4A"/><rect x="654.5" y="62.01" width="5.6" height="5.6" fill="#4DAF4A"/>
<path d="M582.42 152.32H590.22M586.32 148.42V156.22" stroke="#984EA3" stroke-width="1.05" fill="none"/><path d="M594.25 147.24H602.05M598.15 143.34V151.14" stroke="#984EA3" stroke-width="1.05" fill="none"/><path d="M606.08 136.41H613.88M609.98 132.51V140.31" stroke="#984EA3" stroke-width="1.05" fill="none"/><path d="M617.91 119.92H625.71M621.81 116.02V123.82" stroke="#984EA3" stroke-width="1.05" fill="none"/><path d="M629.75 95.29H637.54M633.64 91.39V99.19" stroke="#984EA3" stroke-width="1.05" fill="none"/><path d="M641.57 73.24H649.37M645.47 69.34V77.14" stroke="#984EA3" stroke-width="1.05" fill="none"/><path d="M653.4 60.02H661.2M657.3 56.12V63.92" stroke="#984EA3" stroke-width="1.05" fill="none"/>
<path d="M583.47 148.51h5.7v5.7h-5.7Z" stroke="#FF7F00" stroke-width="1.05" fill="none"/><path d="M583.47 148.51L589.17 154.21M589.17 148.51L583.47 154.21" stroke="#FF7F00" stroke-width="0.85" fill="none"/><path d="M595.3 141.51h5.7v5.7h-5.7Z" stroke="#FF7F00" stroke-width="1.05" fill="none"/><path d="M595.3 141.51L601 147.21M601 141.51L595.3 147.21" stroke="#FF7F00" stroke-width="0.85" fill="none"/><path d="M607.13 129.15h5.7v5.7h-5.7Z" stroke="#FF7F00" stroke-width="1.05" fill="none"/><path d="M607.13 129.15L612.83 134.85M612.83 129.15L607.13 134.85" stroke="#FF7F00" stroke-width="0.85" fill="none"/><path d="M618.96 112.28h5.7v5.7h-5.7Z" stroke="#FF7F00" stroke-width="1.05" fill="none"/><path d="M618.96 112.28L624.66 117.98M624.66 112.28L618.96 117.98" stroke="#FF7F00" stroke-width="0.85" fill="none"/><path d="M630.79 87.36h5.7v5.7h-5.7Z" stroke="#FF7F00" stroke-width="1.05" fill="none"/><path d="M630.79 87.36L636.5 93.06M636.5 87.36L630.79 93.06" stroke="#FF7F00" stroke-width="0.85" fill="none"/><path d="M642.62 67.81h5.7v5.7h-5.7Z" stroke="#FF7F00" stroke-width="1.05" fill="none"/><path d="M642.62 67.81L648.32 73.51M648.32 67.81L642.62 73.51" stroke="#FF7F00" stroke-width="0.85" fill="none"/><path d="M654.45 56.59h5.7v5.7h-5.7Z" stroke="#FF7F00" stroke-width="1.05" fill="none"/><path d="M654.45 56.59L660.15 62.29M660.15 56.59L654.45 62.29" stroke="#FF7F00" stroke-width="0.85" fill="none"/>
<path d="M586.32 152.32C588.3 151.55 594.21 150.08 598.15 147.72C602.1 145.36 606.04 142.34 609.98 138.13C613.93 133.93 617.87 128.79 621.81 122.51C625.76 116.23 629.7 107.81 633.64 100.47C637.59 93.12 641.53 84.78 645.47 78.42C649.42 72.06 655.33 65 657.3 62.32" fill="none" stroke="#E41A1C" stroke-width="1.0" stroke-linejoin="round"/>
<path d="M586.32 152.32C588.3 150.99 594.21 147.98 598.15 144.36C602.1 140.75 606.04 135.93 609.98 130.66C613.93 125.39 617.87 119.56 621.81 112.73C625.76 105.91 629.7 96.84 633.64 89.73C637.59 82.62 641.53 75.1 645.47 70.08C649.42 65.07 655.33 61.37 657.3 59.63" fill="none" stroke="#377EB8" stroke-width="1.0" stroke-linejoin="round"/>
<path d="M586.32 153.47C588.3 152.93 594.21 152.02 598.15 150.21C602.1 148.41 606.04 146.3 609.98 142.64C613.93 138.98 617.87 134.28 621.81 128.26C625.76 122.24 629.7 114.17 633.64 106.5C637.59 98.84 641.53 89.2 645.47 82.25C649.42 75.31 655.33 67.72 657.3 64.81" fill="none" stroke="#4DAF4A" stroke-width="1.0" stroke-linejoin="round"/>
<path d="M586.32 152.32C588.3 151.47 594.21 149.89 598.15 147.24C602.1 144.59 606.04 140.96 609.98 136.41C613.93 131.86 617.87 126.78 621.81 119.92C625.76 113.07 629.7 103.07 633.64 95.29C637.59 87.51 641.53 79.12 645.47 73.24C649.42 67.37 655.33 62.22 657.3 60.02" fill="none" stroke="#984EA3" stroke-width="1.0" stroke-linejoin="round"/>
<path d="M586.32 151.36C588.3 150.2 594.21 147.59 598.15 144.36C602.1 141.14 606.04 136.87 609.98 132C613.93 127.13 617.87 122.1 621.81 115.13C625.76 108.17 629.7 97.62 633.64 90.21C637.59 82.8 641.53 75.78 645.47 70.66C649.42 65.53 655.33 61.31 657.3 59.44" fill="none" stroke="#FF7F00" stroke-width="1.0" stroke-linejoin="round"/>
<text transform="translate(578.7 42.9) scale(0.25000 0.25000)" class="pi" font-size="58.40">π</text>
<text transform="translate(585.1 42.9) scale(0.25000 0.25000)" class="sub" font-size="34.40">1</text>
<text transform="translate(592.7 41.9) scale(0.25000 0.13750)" class="eq" font-size="58.00">=</text>
<text transform="translate(604.1 42.6) scale(0.25000 0.25000)" class="st" font-size="52.00">0.35</text>
<g><path d="M172 283.89H289.1" stroke="#EBEBEB" stroke-width="0.8"/><path d="M186.35 195.48V300.7" stroke="#EBEBEB" stroke-width="0.8"/><path d="M172 259.86H289.1" stroke="#EBEBEB" stroke-width="0.8"/><path d="M215.92 195.48V300.7" stroke="#EBEBEB" stroke-width="0.8"/><path d="M172 235.84H289.1" stroke="#EBEBEB" stroke-width="0.8"/><path d="M245.5 195.48V300.7" stroke="#EBEBEB" stroke-width="0.8"/><path d="M172 211.81H289.1" stroke="#EBEBEB" stroke-width="0.8"/><path d="M275.07 195.48V300.7" stroke="#EBEBEB" stroke-width="0.8"/><path d="M172 295.9H289.1" stroke="#EBEBEB" stroke-width="1.6"/><path d="M172 271.88H289.1" stroke="#EBEBEB" stroke-width="1.6"/><path d="M172 247.85H289.1" stroke="#EBEBEB" stroke-width="1.6"/><path d="M172 223.82H289.1" stroke="#EBEBEB" stroke-width="1.6"/><path d="M172 199.8H289.1" stroke="#EBEBEB" stroke-width="1.6"/><path d="M201.13 195.48V300.7" stroke="#EBEBEB" stroke-width="1.6"/><path d="M230.71 195.48V300.7" stroke="#EBEBEB" stroke-width="1.6"/><path d="M260.28 195.48V300.7" stroke="#EBEBEB" stroke-width="1.6"/></g>
<circle cx="224.8" cy="293.98" r="2.75" fill="#E41A1C"/><circle cx="236.62" cy="289.75" r="2.75" fill="#E41A1C"/><circle cx="248.45" cy="278.12" r="2.75" fill="#E41A1C"/><circle cx="260.28" cy="259" r="2.75" fill="#E41A1C"/><circle cx="272.12" cy="229.59" r="2.75" fill="#E41A1C"/><circle cx="283.94" cy="205.09" r="2.75" fill="#E41A1C"/>
<path d="M224.8 290.58L227.85 296.18L221.75 296.18Z" fill="#377EB8"/><path d="M236.62 282.89L239.68 288.49L233.57 288.49Z" fill="#377EB8"/><path d="M248.45 265.59L251.5 271.19L245.4 271.19Z" fill="#377EB8"/><path d="M260.28 243.01L263.33 248.61L257.23 248.61Z" fill="#377EB8"/><path d="M272.12 214.18L275.17 219.78L269.06 219.78Z" fill="#377EB8"/><path d="M283.94 198.71L287 204.31L280.89 204.31Z" fill="#377EB8"/>
<rect x="222" y="292.62" width="5.6" height="5.6" fill="#4DAF4A"/><rect x="233.82" y="290.12" width="5.6" height="5.6" fill="#4DAF4A"/><rect x="245.65" y="281.28" width="5.6" height="5.6" fill="#4DAF4A"/><rect x="257.48" y="264.94" width="5.6" height="5.6" fill="#4DAF4A"/><rect x="269.31" y="231.98" width="5.6" height="5.6" fill="#4DAF4A"/><rect x="281.14" y="205.17" width="5.6" height="5.6" fill="#4DAF4A"/>
<path d="M220.9 293.98H228.7M224.8 290.08V297.88" stroke="#984EA3" stroke-width="1.05" fill="none"/><path d="M232.72 288.69H240.53M236.62 284.79V292.59" stroke="#984EA3" stroke-width="1.05" fill="none"/><path d="M244.55 276.2H252.35M248.45 272.3V280.1" stroke="#984EA3" stroke-width="1.05" fill="none"/><path d="M256.38 254.48H264.18M260.28 250.58V258.38" stroke="#984EA3" stroke-width="1.05" fill="none"/><path d="M268.22 224.31H276.01M272.12 220.41V228.21" stroke="#984EA3" stroke-width="1.05" fill="none"/><path d="M280.05 203.16H287.84M283.94 199.26V207.06" stroke="#984EA3" stroke-width="1.05" fill="none"/>
<path d="M221.95 289.88h5.7v5.7h-5.7Z" stroke="#FF7F00" stroke-width="1.05" fill="none"/><path d="M221.95 289.88L227.65 295.58M227.65 289.88L221.95 295.58" stroke="#FF7F00" stroke-width="0.85" fill="none"/><path d="M233.78 283.44h5.7v5.7h-5.7Z" stroke="#FF7F00" stroke-width="1.05" fill="none"/><path d="M233.78 283.44L239.47 289.14M239.47 283.44L233.78 289.14" stroke="#FF7F00" stroke-width="0.85" fill="none"/><path d="M245.6 269.99h5.7v5.7h-5.7Z" stroke="#FF7F00" stroke-width="1.05" fill="none"/><path d="M245.6 269.99L251.3 275.69M251.3 269.99L245.6 275.69" stroke="#FF7F00" stroke-width="0.85" fill="none"/><path d="M257.43 246.63h5.7v5.7h-5.7Z" stroke="#FF7F00" stroke-width="1.05" fill="none"/><path d="M257.43 246.63L263.13 252.33M263.13 246.63L257.43 252.33" stroke="#FF7F00" stroke-width="0.85" fill="none"/><path d="M269.26 214.63h5.7v5.7h-5.7Z" stroke="#FF7F00" stroke-width="1.05" fill="none"/><path d="M269.26 214.63L274.97 220.33M274.97 214.63L269.26 220.33" stroke="#FF7F00" stroke-width="0.85" fill="none"/><path d="M281.09 198.87h5.7v5.7h-5.7Z" stroke="#FF7F00" stroke-width="1.05" fill="none"/><path d="M281.09 198.87L286.8 204.57M286.8 198.87L281.09 204.57" stroke="#FF7F00" stroke-width="0.85" fill="none"/>
<path d="M224.8 293.98C226.77 293.27 232.68 292.39 236.62 289.75C240.57 287.11 244.51 283.25 248.45 278.12C252.4 273 256.34 267.09 260.28 259C264.23 250.91 268.17 238.58 272.12 229.59C276.06 220.61 281.97 209.17 283.94 205.09" fill="none" stroke="#E41A1C" stroke-width="1.0" stroke-linejoin="round"/>
<path d="M224.8 293.98C226.77 292.7 232.68 290.45 236.62 286.29C240.57 282.13 244.51 275.64 248.45 268.99C252.4 262.35 256.34 254.98 260.28 246.41C264.23 237.84 268.17 224.96 272.12 217.58C276.06 210.19 281.97 204.69 283.94 202.11" fill="none" stroke="#377EB8" stroke-width="1.0" stroke-linejoin="round"/>
<path d="M224.8 295.42C226.77 295 232.68 294.81 236.62 292.92C240.57 291.03 244.51 288.28 248.45 284.08C252.4 279.88 256.34 275.96 260.28 267.74C264.23 259.53 268.17 244.74 272.12 234.78C276.06 224.82 281.97 212.44 283.94 207.97" fill="none" stroke="#4DAF4A" stroke-width="1.0" stroke-linejoin="round"/>
<path d="M224.8 293.98C226.77 293.1 232.68 291.66 236.62 288.69C240.57 285.73 244.51 281.9 248.45 276.2C252.4 270.5 256.34 263.13 260.28 254.48C264.23 245.83 268.17 232.86 272.12 224.31C276.06 215.75 281.97 206.69 283.94 203.16" fill="none" stroke="#984EA3" stroke-width="1.0" stroke-linejoin="round"/>
<path d="M224.8 292.73C226.77 291.66 232.68 289.61 236.62 286.29C240.57 282.97 244.51 278.97 248.45 272.84C252.4 266.7 256.34 258.71 260.28 249.48C264.23 240.26 268.17 225.44 272.12 217.48C276.06 209.52 281.97 204.35 283.94 201.72" fill="none" stroke="#FF7F00" stroke-width="1.0" stroke-linejoin="round"/>
<text transform="translate(205.25 185.2) scale(0.25000 0.25000)" class="pi" font-size="58.40">π</text>
<text transform="translate(211.65 185.2) scale(0.25000 0.25000)" class="sub" font-size="34.40">1</text>
<text transform="translate(219.25 184.2) scale(0.25000 0.13750)" class="eq" font-size="58.00">=</text>
<text transform="translate(230.65 184.9) scale(0.25000 0.25000)" class="st" font-size="52.00">0.45</text>
<g><path d="M296.9 283.89H413.8" stroke="#EBEBEB" stroke-width="0.8"/><path d="M311.18 195.48V300.7" stroke="#EBEBEB" stroke-width="0.8"/><path d="M296.9 259.86H413.8" stroke="#EBEBEB" stroke-width="0.8"/><path d="M340.68 195.48V300.7" stroke="#EBEBEB" stroke-width="0.8"/><path d="M296.9 235.84H413.8" stroke="#EBEBEB" stroke-width="0.8"/><path d="M370.18 195.48V300.7" stroke="#EBEBEB" stroke-width="0.8"/><path d="M296.9 211.81H413.8" stroke="#EBEBEB" stroke-width="0.8"/><path d="M399.68 195.48V300.7" stroke="#EBEBEB" stroke-width="0.8"/><path d="M296.9 295.9H413.8" stroke="#EBEBEB" stroke-width="1.6"/><path d="M296.9 271.88H413.8" stroke="#EBEBEB" stroke-width="1.6"/><path d="M296.9 247.85H413.8" stroke="#EBEBEB" stroke-width="1.6"/><path d="M296.9 223.82H413.8" stroke="#EBEBEB" stroke-width="1.6"/><path d="M296.9 199.8H413.8" stroke="#EBEBEB" stroke-width="1.6"/><path d="M325.93 195.48V300.7" stroke="#EBEBEB" stroke-width="1.6"/><path d="M355.43 195.48V300.7" stroke="#EBEBEB" stroke-width="1.6"/><path d="M384.93 195.48V300.7" stroke="#EBEBEB" stroke-width="1.6"/></g>
<circle cx="361.33" cy="293.02" r="2.75" fill="#E41A1C"/><circle cx="373.13" cy="285.04" r="2.75" fill="#E41A1C"/><circle cx="384.93" cy="269.95" r="2.75" fill="#E41A1C"/><circle cx="396.73" cy="239.2" r="2.75" fill="#E41A1C"/><circle cx="408.53" cy="209.03" r="2.75" fill="#E41A1C"/>
<path d="M361.33 289.62L364.38 295.22L358.28 295.22Z" fill="#377EB8"/><path d="M373.13 274.91L376.18 280.51L370.08 280.51Z" fill="#377EB8"/><path d="M384.93 251.56L387.98 257.16L381.88 257.16Z" fill="#377EB8"/><path d="M396.73 218.98L399.78 224.58L393.68 224.58Z" fill="#377EB8"/><path d="M408.53 198.42L411.58 204.02L405.48 204.02Z" fill="#377EB8"/>
<rect x="358.53" y="292.14" width="5.6" height="5.6" fill="#4DAF4A"/><rect x="370.33" y="286.95" width="5.6" height="5.6" fill="#4DAF4A"/><rect x="382.13" y="273.98" width="5.6" height="5.6" fill="#4DAF4A"/><rect x="393.93" y="243.13" width="5.6" height="5.6" fill="#4DAF4A"/><rect x="405.73" y="208.82" width="5.6" height="5.6" fill="#4DAF4A"/>
<path d="M357.43 293.02H365.23M361.33 289.12V296.92" stroke="#984EA3" stroke-width="1.05" fill="none"/><path d="M369.23 283.5H377.03M373.13 279.6V287.4" stroke="#984EA3" stroke-width="1.05" fill="none"/><path d="M381.03 265.15H388.83M384.93 261.25V269.05" stroke="#984EA3" stroke-width="1.05" fill="none"/><path d="M392.83 230.84H400.63M396.73 226.94V234.74" stroke="#984EA3" stroke-width="1.05" fill="none"/><path d="M404.63 204.41H412.43M408.53 200.51V208.31" stroke="#984EA3" stroke-width="1.05" fill="none"/>
<path d="M358.48 288.44h5.7v5.7h-5.7Z" stroke="#FF7F00" stroke-width="1.05" fill="none"/><path d="M358.48 288.44L364.18 294.14M364.18 288.44L358.48 294.14" stroke="#FF7F00" stroke-width="0.85" fill="none"/><path d="M370.28 277h5.7v5.7h-5.7Z" stroke="#FF7F00" stroke-width="1.05" fill="none"/><path d="M370.28 277L375.98 282.7M375.98 277L370.28 282.7" stroke="#FF7F00" stroke-width="0.85" fill="none"/><path d="M382.08 254.23h5.7v5.7h-5.7Z" stroke="#FF7F00" stroke-width="1.05" fill="none"/><path d="M382.08 254.23L387.78 259.93M387.78 254.23L382.08 259.93" stroke="#FF7F00" stroke-width="0.85" fill="none"/><path d="M393.88 219.73h5.7v5.7h-5.7Z" stroke="#FF7F00" stroke-width="1.05" fill="none"/><path d="M393.88 219.73L399.58 225.43M399.58 219.73L393.88 225.43" stroke="#FF7F00" stroke-width="0.85" fill="none"/><path d="M405.68 198.97h5.7v5.7h-5.7Z" stroke="#FF7F00" stroke-width="1.05" fill="none"/><path d="M405.68 198.97L411.38 204.67M411.38 198.97L405.68 204.67" stroke="#FF7F00" stroke-width="0.85" fill="none"/>
<path d="M361.33 293.02C363.3 291.69 369.2 288.88 373.13 285.04C377.06 281.2 381 277.59 384.93 269.95C388.86 262.31 392.8 249.36 396.73 239.2C400.66 229.05 406.56 214.05 408.53 209.03" fill="none" stroke="#E41A1C" stroke-width="1.0" stroke-linejoin="round"/>
<path d="M361.33 293.02C363.3 290.57 369.2 284.66 373.13 278.31C377.06 271.97 381 264.28 384.93 254.96C388.86 245.64 392.8 231.24 396.73 222.38C400.66 213.53 406.56 205.25 408.53 201.82" fill="none" stroke="#377EB8" stroke-width="1.0" stroke-linejoin="round"/>
<path d="M361.33 294.94C363.3 294.07 369.2 292.78 373.13 289.75C377.06 286.72 381 284.08 384.93 276.78C388.86 269.47 392.8 256.79 396.73 245.93C400.66 235.07 406.56 217.34 408.53 211.62" fill="none" stroke="#4DAF4A" stroke-width="1.0" stroke-linejoin="round"/>
<path d="M361.33 293.02C363.3 291.43 369.2 288.15 373.13 283.5C377.06 278.86 381 273.93 384.93 265.15C388.86 256.37 392.8 240.96 396.73 230.84C400.66 220.72 406.56 208.82 408.53 204.41" fill="none" stroke="#984EA3" stroke-width="1.0" stroke-linejoin="round"/>
<path d="M361.33 291.29C363.3 289.38 369.2 285.55 373.13 279.85C377.06 274.15 381 266.62 384.93 257.08C388.86 247.53 392.8 231.79 396.73 222.58C400.66 213.37 406.56 205.28 408.53 201.82" fill="none" stroke="#FF7F00" stroke-width="1.0" stroke-linejoin="round"/>
<text transform="translate(329.25 185.2) scale(0.25000 0.25000)" class="pi" font-size="58.40">π</text>
<text transform="translate(335.65 185.2) scale(0.25000 0.25000)" class="sub" font-size="34.40">1</text>
<text transform="translate(343.25 184.2) scale(0.25000 0.13750)" class="eq" font-size="58.00">=</text>
<text transform="translate(354.65 184.9) scale(0.25000 0.25000)" class="st" font-size="52.00">0.55</text>
<g><path d="M422.1 283.89H537.9" stroke="#EBEBEB" stroke-width="0.8"/><path d="M436.43 195.48V300.7" stroke="#EBEBEB" stroke-width="0.8"/><path d="M422.1 259.86H537.9" stroke="#EBEBEB" stroke-width="0.8"/><path d="M465.76 195.48V300.7" stroke="#EBEBEB" stroke-width="0.8"/><path d="M422.1 235.84H537.9" stroke="#EBEBEB" stroke-width="0.8"/><path d="M495.08 195.48V300.7" stroke="#EBEBEB" stroke-width="0.8"/><path d="M422.1 211.81H537.9" stroke="#EBEBEB" stroke-width="0.8"/><path d="M524.41 195.48V300.7" stroke="#EBEBEB" stroke-width="0.8"/><path d="M422.1 295.9H537.9" stroke="#EBEBEB" stroke-width="1.6"/><path d="M422.1 271.88H537.9" stroke="#EBEBEB" stroke-width="1.6"/><path d="M422.1 247.85H537.9" stroke="#EBEBEB" stroke-width="1.6"/><path d="M422.1 223.82H537.9" stroke="#EBEBEB" stroke-width="1.6"/><path d="M422.1 199.8H537.9" stroke="#EBEBEB" stroke-width="1.6"/><path d="M451.09 195.48V300.7" stroke="#EBEBEB" stroke-width="1.6"/><path d="M480.42 195.48V300.7" stroke="#EBEBEB" stroke-width="1.6"/><path d="M509.75 195.48V300.7" stroke="#EBEBEB" stroke-width="1.6"/></g>
<circle cx="498.01" cy="293.5" r="2.75" fill="#E41A1C"/><circle cx="509.75" cy="283.98" r="2.75" fill="#E41A1C"/><circle cx="521.48" cy="255.73" r="2.75" fill="#E41A1C"/><circle cx="533.2" cy="215.75" r="2.75" fill="#E41A1C"/>
<path d="M498.01 290.1L501.06 295.7L494.96 295.7Z" fill="#377EB8"/><path d="M509.75 270.78L512.79 276.38L506.69 276.38Z" fill="#377EB8"/><path d="M521.48 232.92L524.52 238.52L518.43 238.52Z" fill="#377EB8"/><path d="M533.2 201.2L536.25 206.8L530.15 206.8Z" fill="#377EB8"/>
<rect x="495.21" y="292.14" width="5.6" height="5.6" fill="#4DAF4A"/><rect x="506.94" y="284.93" width="5.6" height="5.6" fill="#4DAF4A"/><rect x="518.68" y="261.96" width="5.6" height="5.6" fill="#4DAF4A"/><rect x="530.4" y="217.76" width="5.6" height="5.6" fill="#4DAF4A"/>
<path d="M494.12 293.5H501.91M498.01 289.6V297.4" stroke="#984EA3" stroke-width="1.05" fill="none"/><path d="M505.85 280.91H513.64M509.75 277.01V284.81" stroke="#984EA3" stroke-width="1.05" fill="none"/><path d="M517.58 246.02H525.38M521.48 242.12V249.92" stroke="#984EA3" stroke-width="1.05" fill="none"/><path d="M529.3 208.45H537.1M533.2 204.55V212.35" stroke="#984EA3" stroke-width="1.05" fill="none"/>
<path d="M495.16 288.92h5.7v5.7h-5.7Z" stroke="#FF7F00" stroke-width="1.05" fill="none"/><path d="M495.16 288.92L500.87 294.62M500.87 288.92L495.16 294.62" stroke="#FF7F00" stroke-width="0.85" fill="none"/><path d="M506.89 272.29h5.7v5.7h-5.7Z" stroke="#FF7F00" stroke-width="1.05" fill="none"/><path d="M506.89 272.29L512.6 277.99M512.6 272.29L506.89 277.99" stroke="#FF7F00" stroke-width="0.85" fill="none"/><path d="M518.62 233.76h5.7v5.7h-5.7Z" stroke="#FF7F00" stroke-width="1.05" fill="none"/><path d="M518.62 233.76L524.33 239.46M524.33 233.76L518.62 239.46" stroke="#FF7F00" stroke-width="0.85" fill="none"/><path d="M530.35 201.85h5.7v5.7h-5.7Z" stroke="#FF7F00" stroke-width="1.05" fill="none"/><path d="M530.35 201.85L536.05 207.55M536.05 201.85L530.35 207.55" stroke="#FF7F00" stroke-width="0.85" fill="none"/>
<path d="M498.01 293.5C499.97 291.91 505.83 290.28 509.75 283.98C513.65 277.69 517.57 267.1 521.48 255.73C525.38 244.36 531.25 222.42 533.2 215.75" fill="none" stroke="#E41A1C" stroke-width="1.0" stroke-linejoin="round"/>
<path d="M498.01 293.5C499.97 290.28 505.83 283.71 509.75 274.18C513.65 264.65 517.57 247.91 521.48 236.32C525.38 224.72 531.25 209.89 533.2 204.6" fill="none" stroke="#377EB8" stroke-width="1.0" stroke-linejoin="round"/>
<path d="M498.01 294.94C499.97 293.74 505.83 292.76 509.75 287.73C513.65 282.7 517.57 275.96 521.48 264.76C525.38 253.57 531.25 227.93 533.2 220.56" fill="none" stroke="#4DAF4A" stroke-width="1.0" stroke-linejoin="round"/>
<path d="M498.01 293.5C499.97 291.4 505.83 288.82 509.75 280.91C513.65 273 517.57 258.1 521.48 246.02C525.38 233.95 531.25 214.71 533.2 208.45" fill="none" stroke="#984EA3" stroke-width="1.0" stroke-linejoin="round"/>
<path d="M498.01 291.77C499.97 289 505.83 284.34 509.75 275.14C513.65 265.95 517.57 248.35 521.48 236.61C525.38 224.87 531.25 210.02 533.2 204.7" fill="none" stroke="#FF7F00" stroke-width="1.0" stroke-linejoin="round"/>
<text transform="translate(453.7 185.2) scale(0.25000 0.25000)" class="pi" font-size="58.40">π</text>
<text transform="translate(460.1 185.2) scale(0.25000 0.25000)" class="sub" font-size="34.40">1</text>
<text transform="translate(467.7 184.2) scale(0.25000 0.13750)" class="eq" font-size="58.00">=</text>
<text transform="translate(479.1 184.9) scale(0.25000 0.25000)" class="st" font-size="52.00">0.65</text>
<g><path d="M547 283.89H663" stroke="#EBEBEB" stroke-width="0.8"/><path d="M560.71 195.48V300.7" stroke="#EBEBEB" stroke-width="0.8"/><path d="M547 259.86H663" stroke="#EBEBEB" stroke-width="0.8"/><path d="M590.28 195.48V300.7" stroke="#EBEBEB" stroke-width="0.8"/><path d="M547 235.84H663" stroke="#EBEBEB" stroke-width="0.8"/><path d="M619.86 195.48V300.7" stroke="#EBEBEB" stroke-width="0.8"/><path d="M547 211.81H663" stroke="#EBEBEB" stroke-width="0.8"/><path d="M649.43 195.48V300.7" stroke="#EBEBEB" stroke-width="0.8"/><path d="M547 295.9H663" stroke="#EBEBEB" stroke-width="1.6"/><path d="M547 271.88H663" stroke="#EBEBEB" stroke-width="1.6"/><path d="M547 247.85H663" stroke="#EBEBEB" stroke-width="1.6"/><path d="M547 223.82H663" stroke="#EBEBEB" stroke-width="1.6"/><path d="M547 199.8H663" stroke="#EBEBEB" stroke-width="1.6"/><path d="M575.5 195.48V300.7" stroke="#EBEBEB" stroke-width="1.6"/><path d="M605.07 195.48V300.7" stroke="#EBEBEB" stroke-width="1.6"/><path d="M634.64 195.48V300.7" stroke="#EBEBEB" stroke-width="1.6"/></g>
<circle cx="634.64" cy="293.02" r="2.75" fill="#E41A1C"/><circle cx="646.47" cy="274.18" r="2.75" fill="#E41A1C"/><circle cx="658.3" cy="226.04" r="2.75" fill="#E41A1C"/>
<path d="M634.64 289.62L637.69 295.22L631.6 295.22Z" fill="#377EB8"/><path d="M646.47 249.25L649.52 254.85L643.42 254.85Z" fill="#377EB8"/><path d="M658.3 203.7L661.35 209.3L655.25 209.3Z" fill="#377EB8"/>
<rect x="631.85" y="291.56" width="5.6" height="5.6" fill="#4DAF4A"/><rect x="643.67" y="277.05" width="5.6" height="5.6" fill="#4DAF4A"/><rect x="655.5" y="229" width="5.6" height="5.6" fill="#4DAF4A"/>
<path d="M630.75 293.02H638.54M634.64 289.12V296.92" stroke="#984EA3" stroke-width="1.05" fill="none"/><path d="M642.57 263.23H650.37M646.47 259.33V267.13" stroke="#984EA3" stroke-width="1.05" fill="none"/><path d="M654.4 213.93H662.2M658.3 210.03V217.83" stroke="#984EA3" stroke-width="1.05" fill="none"/>
<path d="M631.79 288.44h5.7v5.7h-5.7Z" stroke="#FF7F00" stroke-width="1.05" fill="none"/><path d="M631.79 288.44L637.5 294.14M637.5 288.44L631.79 294.14" stroke="#FF7F00" stroke-width="0.85" fill="none"/><path d="M643.62 250.48h5.7v5.7h-5.7Z" stroke="#FF7F00" stroke-width="1.05" fill="none"/><path d="M643.62 250.48L649.32 256.18M649.32 250.48L643.62 256.18" stroke="#FF7F00" stroke-width="0.85" fill="none"/><path d="M655.45 204.25h5.7v5.7h-5.7Z" stroke="#FF7F00" stroke-width="1.05" fill="none"/><path d="M655.45 204.25L661.15 209.95M661.15 204.25L655.45 209.95" stroke="#FF7F00" stroke-width="0.85" fill="none"/>
<path d="M634.64 293.02C636.62 289.88 642.53 285.35 646.47 274.18C650.42 263.02 656.33 234.06 658.3 226.04" fill="none" stroke="#E41A1C" stroke-width="1.0" stroke-linejoin="round"/>
<path d="M634.64 293.02C636.62 286.29 642.53 266.97 646.47 252.65C650.42 238.34 656.33 214.7 658.3 207.1" fill="none" stroke="#377EB8" stroke-width="1.0" stroke-linejoin="round"/>
<path d="M634.64 294.36C636.62 291.94 642.53 290.28 646.47 279.85C650.42 269.42 656.33 239.81 658.3 231.8" fill="none" stroke="#4DAF4A" stroke-width="1.0" stroke-linejoin="round"/>
<path d="M634.64 293.02C636.62 288.05 642.53 276.41 646.47 263.23C650.42 250.04 656.33 222.14 658.3 213.93" fill="none" stroke="#984EA3" stroke-width="1.0" stroke-linejoin="round"/>
<path d="M634.64 291.29C636.62 284.96 642.53 267.36 646.47 253.33C650.42 239.3 656.33 214.81 658.3 207.1" fill="none" stroke="#FF7F00" stroke-width="1.0" stroke-linejoin="round"/>
<text transform="translate(578.7 185.2) scale(0.25000 0.25000)" class="pi" font-size="58.40">π</text>
<text transform="translate(585.1 185.2) scale(0.25000 0.25000)" class="sub" font-size="34.40">1</text>
<text transform="translate(592.7 184.2) scale(0.25000 0.13750)" class="eq" font-size="58.00">=</text>
<text transform="translate(604.1 184.9) scale(0.25000 0.25000)" class="st" font-size="52.00">0.75</text>
<g><path d="M172 426.89H289.1" stroke="#EBEBEB" stroke-width="0.8"/><path d="M186.35 338.48V443.7" stroke="#EBEBEB" stroke-width="0.8"/><path d="M172 402.86H289.1" stroke="#EBEBEB" stroke-width="0.8"/><path d="M215.92 338.48V443.7" stroke="#EBEBEB" stroke-width="0.8"/><path d="M172 378.84H289.1" stroke="#EBEBEB" stroke-width="0.8"/><path d="M245.5 338.48V443.7" stroke="#EBEBEB" stroke-width="0.8"/><path d="M172 354.81H289.1" stroke="#EBEBEB" stroke-width="0.8"/><path d="M275.07 338.48V443.7" stroke="#EBEBEB" stroke-width="0.8"/><path d="M172 438.9H289.1" stroke="#EBEBEB" stroke-width="1.6"/><path d="M172 414.88H289.1" stroke="#EBEBEB" stroke-width="1.6"/><path d="M172 390.85H289.1" stroke="#EBEBEB" stroke-width="1.6"/><path d="M172 366.82H289.1" stroke="#EBEBEB" stroke-width="1.6"/><path d="M172 342.8H289.1" stroke="#EBEBEB" stroke-width="1.6"/><path d="M201.13 338.48V443.7" stroke="#EBEBEB" stroke-width="1.6"/><path d="M230.71 338.48V443.7" stroke="#EBEBEB" stroke-width="1.6"/><path d="M260.28 338.48V443.7" stroke="#EBEBEB" stroke-width="1.6"/></g>
<circle cx="272.12" cy="436.5" r="2.75" fill="#E41A1C"/><circle cx="283.94" cy="392.2" r="2.75" fill="#E41A1C"/>
<path d="M272.12 433.1L275.17 438.7L269.06 438.7Z" fill="#377EB8"/><path d="M283.94 354.49L287 360.09L280.89 360.09Z" fill="#377EB8"/>
<rect x="269.31" y="434.18" width="5.6" height="5.6" fill="#4DAF4A"/><rect x="281.14" y="398.24" width="5.6" height="5.6" fill="#4DAF4A"/>
<path d="M268.22 436.5H276.01M272.12 432.6V440.4" stroke="#984EA3" stroke-width="1.05" fill="none"/><path d="M280.05 367.21H287.84M283.94 363.31V371.11" stroke="#984EA3" stroke-width="1.05" fill="none"/>
<path d="M269.26 433.17h5.7v5.7h-5.7Z" stroke="#FF7F00" stroke-width="1.05" fill="none"/><path d="M269.26 433.17L274.97 438.87M274.97 433.17L269.26 438.87" stroke="#FF7F00" stroke-width="0.85" fill="none"/><path d="M281.09 352.92h5.7v5.7h-5.7Z" stroke="#FF7F00" stroke-width="1.05" fill="none"/><path d="M281.09 352.92L286.8 358.62M286.8 352.92L281.09 358.62" stroke="#FF7F00" stroke-width="0.85" fill="none"/>
<path d="M272.12 436.5L283.94 392.2" fill="none" stroke="#E41A1C" stroke-width="1.0" stroke-linejoin="round"/>
<path d="M272.12 436.5L283.94 357.89" fill="none" stroke="#377EB8" stroke-width="1.0" stroke-linejoin="round"/>
<path d="M272.12 436.98L283.94 401.04" fill="none" stroke="#4DAF4A" stroke-width="1.0" stroke-linejoin="round"/>
<path d="M272.12 436.5L283.94 367.21" fill="none" stroke="#984EA3" stroke-width="1.0" stroke-linejoin="round"/>
<path d="M272.12 436.02L283.94 355.77" fill="none" stroke="#FF7F00" stroke-width="1.0" stroke-linejoin="round"/>
<text transform="translate(205.25 327.9) scale(0.25000 0.25000)" class="pi" font-size="58.40">π</text>
<text transform="translate(211.65 327.9) scale(0.25000 0.25000)" class="sub" font-size="34.40">1</text>
<text transform="translate(219.25 326.9) scale(0.25000 0.13750)" class="eq" font-size="58.00">=</text>
<text transform="translate(230.65 327.6) scale(0.25000 0.25000)" class="st" font-size="52.00">0.85</text>
<g><path d="M296.1 426.89H413" stroke="#EBEBEB" stroke-width="0.8"/><path d="M310.38 338.48V443.7" stroke="#EBEBEB" stroke-width="0.8"/><path d="M296.1 402.86H413" stroke="#EBEBEB" stroke-width="0.8"/><path d="M339.88 338.48V443.7" stroke="#EBEBEB" stroke-width="0.8"/><path d="M296.1 378.84H413" stroke="#EBEBEB" stroke-width="0.8"/><path d="M369.38 338.48V443.7" stroke="#EBEBEB" stroke-width="0.8"/><path d="M296.1 354.81H413" stroke="#EBEBEB" stroke-width="0.8"/><path d="M398.88 338.48V443.7" stroke="#EBEBEB" stroke-width="0.8"/><path d="M296.1 438.9H413" stroke="#EBEBEB" stroke-width="1.6"/><path d="M296.1 414.88H413" stroke="#EBEBEB" stroke-width="1.6"/><path d="M296.1 390.85H413" stroke="#EBEBEB" stroke-width="1.6"/><path d="M296.1 366.82H413" stroke="#EBEBEB" stroke-width="1.6"/><path d="M296.1 342.8H413" stroke="#EBEBEB" stroke-width="1.6"/><path d="M325.13 338.48V443.7" stroke="#EBEBEB" stroke-width="1.6"/><path d="M354.63 338.48V443.7" stroke="#EBEBEB" stroke-width="1.6"/><path d="M384.13 338.48V443.7" stroke="#EBEBEB" stroke-width="1.6"/></g>
<circle cx="407.73" cy="437.55" r="2.75" fill="#E41A1C"/>
<path d="M407.73 434.15L410.78 439.75L404.68 439.75Z" fill="#377EB8"/>
<rect x="404.93" y="434.95" width="5.6" height="5.6" fill="#4DAF4A"/>
<path d="M403.83 437.55H411.63M407.73 433.65V441.45" stroke="#984EA3" stroke-width="1.05" fill="none"/>
<path d="M404.88 434.7h5.7v5.7h-5.7Z" stroke="#FF7F00" stroke-width="1.05" fill="none"/><path d="M404.88 434.7L410.58 440.4M410.58 434.7L404.88 440.4" stroke="#FF7F00" stroke-width="0.85" fill="none"/>
<text transform="translate(329.25 327.9) scale(0.25000 0.25000)" class="pi" font-size="58.40">π</text>
<text transform="translate(335.65 327.9) scale(0.25000 0.25000)" class="sub" font-size="34.40">1</text>
<text transform="translate(343.25 326.9) scale(0.25000 0.13750)" class="eq" font-size="58.00">=</text>
<text transform="translate(354.65 327.6) scale(0.25000 0.25000)" class="st" font-size="52.00">0.95</text>
<text transform="translate(164.8 158.75) scale(0.23000 0.25000)" class="ax" font-size="49.60" text-anchor="end">0.00</text>
<text transform="translate(164.8 134.79) scale(0.23000 0.25000)" class="ax" font-size="49.60" text-anchor="end">0.25</text>
<text transform="translate(164.8 110.82) scale(0.23000 0.25000)" class="ax" font-size="49.60" text-anchor="end">0.50</text>
<text transform="translate(164.8 86.86) scale(0.23000 0.25000)" class="ax" font-size="49.60" text-anchor="end">0.75</text>
<text transform="translate(164.8 62.9) scale(0.23000 0.25000)" class="ax" font-size="49.60" text-anchor="end">1.00</text>
<text transform="translate(164.8 300.7) scale(0.23000 0.25000)" class="ax" font-size="49.60" text-anchor="end">0.00</text>
<text transform="translate(164.8 276.68) scale(0.23000 0.25000)" class="ax" font-size="49.60" text-anchor="end">0.25</text>
<text transform="translate(164.8 252.65) scale(0.23000 0.25000)" class="ax" font-size="49.60" text-anchor="end">0.50</text>
<text transform="translate(164.8 228.62) scale(0.23000 0.25000)" class="ax" font-size="49.60" text-anchor="end">0.75</text>
<text transform="translate(164.8 204.6) scale(0.23000 0.25000)" class="ax" font-size="49.60" text-anchor="end">1.00</text>
<text transform="translate(164.8 443.7) scale(0.23000 0.25000)" class="ax" font-size="49.60" text-anchor="end">0.00</text>
<text transform="translate(164.8 419.68) scale(0.23000 0.25000)" class="ax" font-size="49.60" text-anchor="end">0.25</text>
<text transform="translate(164.8 395.65) scale(0.23000 0.25000)" class="ax" font-size="49.60" text-anchor="end">0.50</text>
<text transform="translate(164.8 371.62) scale(0.23000 0.25000)" class="ax" font-size="49.60" text-anchor="end">0.75</text>
<text transform="translate(164.8 347.6) scale(0.23000 0.25000)" class="ax" font-size="49.60" text-anchor="end">1.00</text>
<text transform="translate(201.33 457.9) scale(0.23750 0.25000)" class="ax" font-size="50.40" text-anchor="middle">0.25</text>
<text transform="translate(230.91 457.9) scale(0.23750 0.25000)" class="ax" font-size="50.40" text-anchor="middle">0.50</text>
<text transform="translate(260.48 457.9) scale(0.23750 0.25000)" class="ax" font-size="50.40" text-anchor="middle">0.75</text>
<text transform="translate(325.33 457.9) scale(0.23750 0.25000)" class="ax" font-size="50.40" text-anchor="middle">0.25</text>
<text transform="translate(354.83 457.9) scale(0.23750 0.25000)" class="ax" font-size="50.40" text-anchor="middle">0.50</text>
<text transform="translate(384.33 457.9) scale(0.23750 0.25000)" class="ax" font-size="50.40" text-anchor="middle">0.75</text>
<text transform="translate(450.29 316.9) scale(0.23750 0.25000)" class="ax" font-size="52.80" text-anchor="middle">0.25</text>
<text transform="translate(479.62 316.9) scale(0.23750 0.25000)" class="ax" font-size="52.80" text-anchor="middle">0.50</text>
<text transform="translate(508.94 316.9) scale(0.23750 0.25000)" class="ax" font-size="52.80" text-anchor="middle">0.75</text>
<text transform="translate(574.7 316.9) scale(0.23750 0.25000)" class="ax" font-size="52.80" text-anchor="middle">0.25</text>
<text transform="translate(604.27 316.9) scale(0.23750 0.25000)" class="ax" font-size="52.80" text-anchor="middle">0.50</text>
<text transform="translate(633.85 316.9) scale(0.23750 0.25000)" class="ax" font-size="52.80" text-anchor="middle">0.75</text>
<text transform="translate(133.9 248.2) rotate(-90) scale(0.25000 0.25000)" class="ti" font-size="62.40" text-anchor="middle">Power</text>
<text transform="translate(410 474.7) scale(0.25000 0.25000)" class="pi2" font-size="66.00">π</text>
<text transform="translate(419 474.6) scale(0.25000 0.25000)" class="sub2" font-size="40.80">2</text>
<text transform="translate(221 520.7) scale(0.26650 0.25000)" class="lt" font-size="60.80">Test</text>
<path d="M263 514.4H278.8" stroke="#E41A1C" stroke-width="1.0"/>
<circle cx="270.9" cy="514.4" r="2.75" fill="#E41A1C"/>
<text transform="translate(288.54 519.8) scale(0.24000 0.25000)" class="lg" font-size="51.20">Barnard</text>
<path d="M343 514.4H358.8" stroke="#377EB8" stroke-width="1.0"/>
<path d="M350.9 511L353.95 516.6L347.85 516.6Z" fill="#377EB8"/>
<text transform="translate(367.94 519.8) scale(0.24000 0.25000)" class="lg" font-size="51.20">Boschloo</text>
<path d="M430.1 514.4H445.9" stroke="#4DAF4A" stroke-width="1.0"/>
<rect x="435.2" y="511.6" width="5.6" height="5.6" fill="#4DAF4A"/>
<text transform="translate(452.94 519.8) scale(0.24000 0.25000)" class="lg" font-size="51.20">Fisher</text>
<path d="M499.4 514.4H515.2" stroke="#984EA3" stroke-width="1.0"/>
<path d="M503.4 514.4H511.2M507.3 510.5V518.3" stroke="#984EA3" stroke-width="1.05" fill="none"/>
<text transform="translate(523.44 519.8) scale(0.24000 0.25000)" class="lg" font-size="51.20">WOR</text>
<path d="M568.1 514.4H583.9" stroke="#FF7F00" stroke-width="1.0"/>
<path d="M573.15 511.55h5.7v5.7h-5.7Z" stroke="#FF7F00" stroke-width="1.05" fill="none"/><path d="M573.15 511.55L578.85 517.25M578.85 511.55L573.15 517.25" stroke="#FF7F00" stroke-width="0.85" fill="none"/>
<text transform="translate(588.24 519.8) scale(0.24000 0.25000)" class="lg" font-size="51.20">WR</text>
</svg>
<div class="cap"><b>Figure 2:</b> Power curves for various test methods across different (π0, π1) values, n=20.</div>
</body></html>
